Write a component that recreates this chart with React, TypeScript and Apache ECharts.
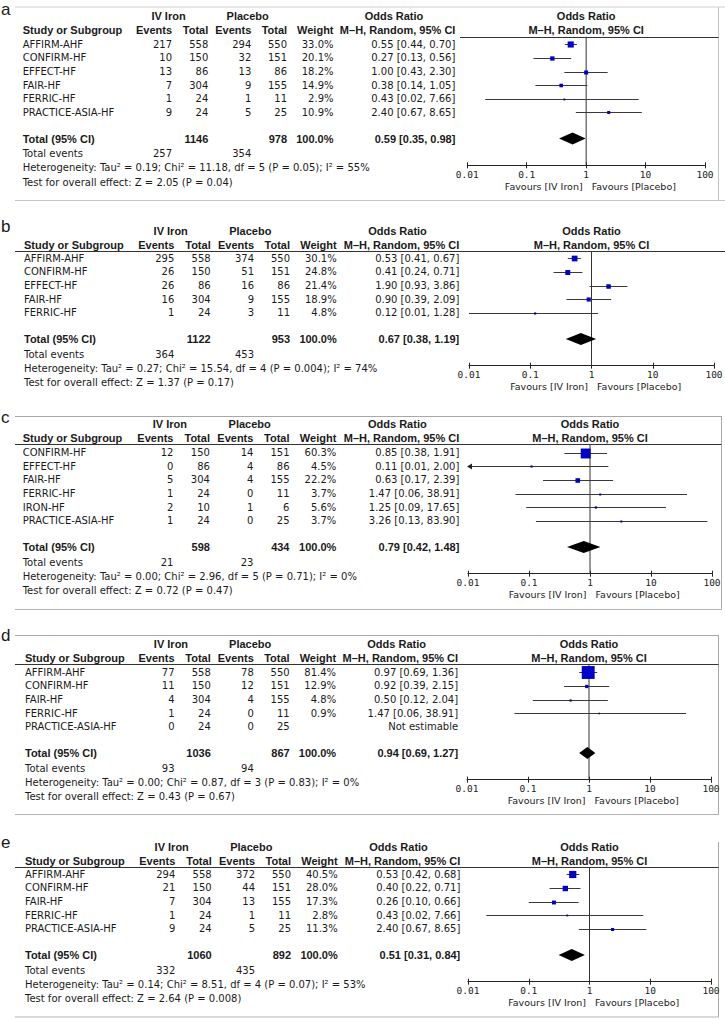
import React, { useEffect, useRef } from "react";
import * as echarts from "echarts";

// ---------------- data ----------------
const tickLabels = ["0.01", "0.1", "1", "10", "100"];

// Panel a
const aStudies = ["AFFIRM-AHF", "CONFIRM-HF", "EFFECT-HF", "FAIR-HF", "FERRIC-HF", "PRACTICE-ASIA-HF"];
const aIronEvents = [217, 10, 13, 7, 1, 9];
const aIronTotal = [558, 150, 86, 304, 24, 24];
const aPlacEvents = [294, 32, 13, 9, 1, 5];
const aPlacTotal = [550, 151, 86, 155, 11, 25];
const aWeight = [33.0, 20.1, 18.2, 14.9, 2.9, 10.9];
const aOR = [0.55, 0.27, 1.0, 0.38, 0.43, 2.4];
const aLow = [0.44, 0.13, 0.43, 0.14, 0.02, 0.67];
const aHigh = [0.7, 0.56, 2.3, 1.05, 7.66, 8.65];
const aPooled = [0.59, 0.35, 0.98];
const aSums = [1146, 978, 257, 354];
const aHet = ["0.19", "11.18", "5", "0.05", "55"];
const aTest = ["2.05", "0.04"];

// Panel b
const bStudies = ["AFFIRM-AHF", "CONFIRM-HF", "EFFECT-HF", "FAIR-HF", "FERRIC-HF"];
const bIronEvents = [295, 26, 26, 16, 1];
const bIronTotal = [558, 150, 86, 304, 24];
const bPlacEvents = [374, 51, 16, 9, 3];
const bPlacTotal = [550, 151, 86, 155, 11];
const bWeight = [30.1, 24.8, 21.4, 18.9, 4.8];
const bOR = [0.53, 0.41, 1.9, 0.9, 0.12];
const bLow = [0.41, 0.24, 0.93, 0.39, 0.01];
const bHigh = [0.67, 0.71, 3.86, 2.09, 1.28];
const bPooled = [0.67, 0.38, 1.19];
const bSums = [1122, 953, 364, 453];
const bHet = ["0.27", "15.54", "4", "0.004", "74"];
const bTest = ["1.37", "0.17"];

// Panel c
const cStudies = ["CONFIRM-HF", "EFFECT-HF", "FAIR-HF", "FERRIC-HF", "IRON-HF", "PRACTICE-ASIA-HF"];
const cIronEvents = [12, 0, 5, 1, 2, 1];
const cIronTotal = [150, 86, 304, 24, 10, 24];
const cPlacEvents = [14, 4, 4, 0, 1, 0];
const cPlacTotal = [151, 86, 155, 11, 6, 25];
const cWeight = [60.3, 4.5, 22.2, 3.7, 5.6, 3.7];
const cOR = [0.85, 0.11, 0.63, 1.47, 1.25, 3.26];
const cLow = [0.38, 0.01, 0.17, 0.06, 0.09, 0.13];
const cHigh = [1.91, 2.0, 2.39, 38.91, 17.65, 83.9];
const cLowBeyondAxis = [false, true, false, false, false, false];
const cPooled = [0.79, 0.42, 1.48];
const cSums = [598, 434, 21, 23];
const cHet = ["0.00", "2.96", "5", "0.71", "0"];
const cTest = ["0.72", "0.47"];

// Panel d
const dStudies = ["AFFIRM-AHF", "CONFIRM-HF", "FAIR-HF", "FERRIC-HF", "PRACTICE-ASIA-HF"];
const dIronEvents = [77, 11, 4, 1, 0];
const dIronTotal = [558, 150, 304, 24, 24];
const dPlacEvents = [78, 12, 4, 0, 0];
const dPlacTotal = [550, 151, 155, 11, 25];
const dWeight = [81.4, 12.9, 4.8, 0.9, null];
const dOR = [0.97, 0.92, 0.5, 1.47, null];
const dLow = [0.69, 0.39, 0.12, 0.06, null];
const dHigh = [1.36, 2.15, 2.04, 38.91, null];
const dPooled = [0.94, 0.69, 1.27];
const dSums = [1036, 867, 93, 94];
const dHet = ["0.00", "0.87", "3", "0.83", "0"];
const dTest = ["0.43", "0.67"];

// Panel e
const eStudies = ["AFFIRM-AHF", "CONFIRM-HF", "FAIR-HF", "FERRIC-HF", "PRACTICE-ASIA-HF"];
const eIronEvents = [294, 21, 7, 1, 9];
const eIronTotal = [558, 150, 304, 24, 24];
const ePlacEvents = [372, 44, 13, 1, 5];
const ePlacTotal = [550, 151, 155, 11, 25];
const eWeight = [40.5, 28.0, 17.3, 2.8, 11.3];
const eOR = [0.53, 0.4, 0.26, 0.43, 2.4];
const eLow = [0.42, 0.22, 0.1, 0.02, 0.67];
const eHigh = [0.68, 0.71, 0.66, 7.66, 8.65];
const ePooled = [0.51, 0.31, 0.84];
const eSums = [1060, 892, 332, 435];
const eHet = ["0.14", "8.51", "4", "0.07", "53"];
const eTest = ["2.64", "0.008"];

type PanelData = {
  label: string;
  studies: string[];
  ironEvents: number[];
  ironTotal: number[];
  placEvents: number[];
  placTotal: number[];
  weight: (number | null)[];
  or: (number | null)[];
  low: (number | null)[];
  high: (number | null)[];
  beyond?: boolean[];
  pooled: number[];
  sums: number[];
  het: string[];
  test: string[];
};

const panels: PanelData[] = [
  { label: "a", studies: aStudies, ironEvents: aIronEvents, ironTotal: aIronTotal, placEvents: aPlacEvents, placTotal: aPlacTotal, weight: aWeight, or: aOR, low: aLow, high: aHigh, pooled: aPooled, sums: aSums, het: aHet, test: aTest },
  { label: "b", studies: bStudies, ironEvents: bIronEvents, ironTotal: bIronTotal, placEvents: bPlacEvents, placTotal: bPlacTotal, weight: bWeight, or: bOR, low: bLow, high: bHigh, pooled: bPooled, sums: bSums, het: bHet, test: bTest },
  { label: "c", studies: cStudies, ironEvents: cIronEvents, ironTotal: cIronTotal, placEvents: cPlacEvents, placTotal: cPlacTotal, weight: cWeight, or: cOR, low: cLow, high: cHigh, beyond: cLowBeyondAxis, pooled: cPooled, sums: cSums, het: cHet, test: cTest },
  { label: "d", studies: dStudies, ironEvents: dIronEvents, ironTotal: dIronTotal, placEvents: dPlacEvents, placTotal: dPlacTotal, weight: dWeight, or: dOR, low: dLow, high: dHigh, pooled: dPooled, sums: dSums, het: dHet, test: dTest },
  { label: "e", studies: eStudies, ironEvents: eIronEvents, ironTotal: eIronTotal, placEvents: ePlacEvents, placTotal: ePlacTotal, weight: eWeight, or: eOR, low: eLow, high: eHigh, pooled: ePooled, sums: eSums, het: eHet, test: eTest },
];

// ---------------- layout (positions / styles) ----------------
const ROW = 13.6;
const TOTAL_GAP = 26.3;
const AXIS_GAP = 26.7;

const layouts = [
  { H: 36.7, first: 7.6, x01: 467.3, x100: 705, tx0: 22.7, ts: 0.994, labelY: 9, headerX1: 460, headerX2: 718.5 },
  { H: 251, first: 7.3, x01: 469, x100: 714, tx0: 24, ts: 1.0, labelY: 226, headerX1: 15, headerX2: 725 },
  { H: 444.3, first: 8.4, x01: 468, x100: 712, tx0: 22.7, ts: 1.003, labelY: 417, headerX1: 15, headerX2: 721.5 },
  { H: 664, first: 8.3, x01: 467, x100: 711, tx0: 25, ts: 0.995, labelY: 635, headerX1: 15, headerX2: 718.5 },
  { H: 867.3, first: 7.0, x01: 468, x100: 711, tx0: 25, ts: 1.0, labelY: 842, headerX1: 15, headerX2: 718.5 },
];

const frameLines: { p: number[]; c: string }[] = [
  { p: [15, 7, 725, 7], c: "#cfcfcf" },
  { p: [718.5, 7, 718.5, 200], c: "#c4c4c4" },
  { p: [15, 200.5, 725, 200.5], c: "#c4c4c4" },
  { p: [15, 416.5, 722, 416.5], c: "#a8a8a8" },
  { p: [721.5, 416.5, 721.5, 609.5], c: "#a8a8a8" },
  { p: [15, 609.5, 722, 609.5], c: "#b4b4b4" },
  { p: [15, 635.5, 719, 635.5], c: "#a8a8a8" },
  { p: [718.5, 635.5, 718.5, 814.5], c: "#a8a8a8" },
  { p: [15, 814.5, 719, 814.5], c: "#b4b4b4" },
  { p: [718.5, 842, 718.5, 1017], c: "#a8a8a8" },
  { p: [15, 1017, 719, 1017], c: "#b4b4b4" },
];

const COL = { study: 24, ev1: 174.3, tot1: 210.7, ev2: 254, tot2: 290, wt: 336.7, or: 459.3, iv: 170.7, pl: 250.3, orh: 397.5 };

const REG = '10px "DejaVu Sans"';
const BOLD = 'bold 11px "Liberation Sans"';
const TXT = "#1a1a1a";
const BLUE = "#0000c8";

function fmtOR(o: number, l: number, h: number) {
  return `${o.toFixed(2)} [${l.toFixed(2)}, ${h.toFixed(2)}]`;
}

function buildOption() {
  const grids: any[] = [];
  const xAxes: any[] = [];
  const yAxes: any[] = [];
  const series: any[] = [];
  const elements: any[] = [];

  const txt = (text: string, x: number, y: number, align: string, font = REG) =>
    elements.push({ type: "text", x, y, silent: true, style: { text, x: 0, y: 0, align, verticalAlign: "middle", font, fill: TXT } });

  frameLines.forEach((f) =>
    elements.push({ type: "line", silent: true, shape: { x1: f.p[0], y1: f.p[1], x2: f.p[2], y2: f.p[3] }, style: { stroke: f.c, lineWidth: 1 } })
  );

  panels.forEach((p, i) => {
    const L = layouts[i];
    const n = p.studies.length;
    const firstY = L.H + L.first;
    const totalIdx = n - 1 + TOTAL_GAP / ROW;
    const totalY = firstY + totalIdx * ROW;
    const axisY = totalY + AXIS_GAP;
    const yMin = -L.first / ROW;
    const yMax = (axisY - firstY) / ROW;
    const xc = (L.x01 + L.x100) / 2;
    const tx = (x: number) => L.tx0 + L.ts * (x - COL.study);

    grids.push({ left: L.x01, top: L.H, width: L.x100 - L.x01, height: axisY - L.H, containLabel: false, outerBoundsMode: "none" });
    const axisBase = {
      type: "log",
      logBase: 10,
      min: 0.01,
      max: 100,
      gridIndex: i,
      position: "bottom",
      splitLine: { show: false },
      minorTick: { show: false },
    };
    xAxes.push({
      ...axisBase,
      axisLine: { show: true, onZero: false, lineStyle: { color: "#222", width: 1 } },
      axisTick: { show: true, length: 3, lineStyle: { color: "#222" } },
      axisLabel: {
        margin: 4,
        color: "#222",
        fontFamily: "DejaVu Sans Mono",
        fontSize: 9.5,
        formatter: (v: number) => tickLabels[Math.round(Math.log10(v)) + 2] ?? "",
      },
    });
    xAxes.push({
      ...axisBase,
      axisLine: { show: false, onZero: false },
      axisTick: { show: true, inside: true, length: 3, lineStyle: { color: "#222" } },
      axisLabel: { show: false },
    });
    yAxes.push({ type: "value", gridIndex: i, inverse: true, min: yMin, max: yMax, show: false });

    const xIdx = i * 2;
    // vertical line of no effect
    series.push({
      type: "line",
      xAxisIndex: xIdx,
      yAxisIndex: i,
      data: [
        [1, yMin],
        [1, yMax],
      ],
      symbol: "none",
      silent: true,
      lineStyle: { color: "#333", width: 1 },
      z: 1,
    });

    // studies
    const rows: any[] = [];
    p.studies.forEach((_, k) => {
      const o = p.or[k];
      if (o == null) return;
      rows.push([o, p.low[k], p.high[k], k, p.weight[k], p.beyond && p.beyond[k] ? 1 : 0]);
    });
    series.push({
      type: "custom",
      xAxisIndex: xIdx,
      yAxisIndex: i,
      data: rows,
      encode: { x: [0, 1, 2], y: 3 },
      silent: true,
      z: 3,
      renderItem: (_params: any, api: any) => {
        const o = api.value(0);
        const lo = api.value(1);
        const hi = api.value(2);
        const r = api.value(3);
        const w = api.value(4);
        const beyond = api.value(5);
        const pLo = api.coord([Math.max(lo, 0.01), r]);
        const pHi = api.coord([Math.min(hi, 100), r]);
        const pC = api.coord([o, r]);
        const s = 1.5 + 0.14 * w;
        const yy = Math.round(pC[1]) + 0.5;
        const children: any[] = [
          { type: "line", shape: { x1: pLo[0], y1: yy, x2: pHi[0], y2: yy }, style: { stroke: "#3a3a3a", lineWidth: 1 } },
          { type: "rect", shape: { x: pC[0] - s / 2, y: yy - s / 2, width: s, height: s }, style: { fill: BLUE } },
        ];
        if (beyond) {
          children.push({
            type: "polygon",
            shape: { points: [[pLo[0] - 1, yy], [pLo[0] + 4, yy - 3], [pLo[0] + 4, yy + 3]] },
            style: { fill: "#222" },
          });
        }
        return { type: "group", children };
      },
    });

    // pooled diamond
    series.push({
      type: "custom",
      xAxisIndex: xIdx,
      yAxisIndex: i,
      data: [[p.pooled[0], p.pooled[1], p.pooled[2], totalIdx]],
      encode: { x: [0, 1, 2], y: 3 },
      silent: true,
      z: 4,
      renderItem: (_params: any, api: any) => {
        const c = api.coord([api.value(0), api.value(3)]);
        const l = api.coord([api.value(1), api.value(3)]);
        const h = api.coord([api.value(2), api.value(3)]);
        return {
          type: "polygon",
          shape: { points: [[l[0], c[1]], [c[0], c[1] - 6], [h[0], c[1]], [c[0], c[1] + 6]] },
          style: { fill: "#000" },
        };
      },
    });

    // ---- texts ----
    txt(p.label, 1, L.labelY, "left", '17px "Liberation Sans"');
    const h1 = L.H - 20.5;
    const h2 = L.H - 6.5;
    txt("IV Iron", tx(COL.iv), h1, "center", BOLD);
    txt("Placebo", tx(COL.pl), h1, "center", BOLD);
    txt("Odds Ratio", tx(COL.orh), h1, "center", BOLD);
    txt("Odds Ratio", xc, h1, "center", BOLD);
    txt("Study or Subgroup", tx(COL.study), h2, "left", BOLD);
    txt("Events", tx(COL.ev1), h2, "right", BOLD);
    txt("Total", tx(COL.tot1), h2, "right", BOLD);
    txt("Events", tx(COL.ev2), h2, "right", BOLD);
    txt("Total", tx(COL.tot2), h2, "right", BOLD);
    txt("Weight", tx(COL.wt), h2, "right", BOLD);
    txt("M–H, Random, 95% CI", tx(COL.or), h2, "right", BOLD);
    txt("M–H, Random, 95% CI", xc, h2, "center", BOLD);
    elements.push({
      type: "line",
      silent: true,
      shape: { x1: L.headerX1, y1: Math.round(L.H) + 0.5, x2: L.headerX2, y2: Math.round(L.H) + 0.5 },
      style: { stroke: "#333", lineWidth: 1 },
    });

    p.studies.forEach((name, k) => {
      const y = firstY + k * ROW;
      txt(name, tx(COL.study), y, "left");
      txt(String(p.ironEvents[k]), tx(COL.ev1), y, "right");
      txt(String(p.ironTotal[k]), tx(COL.tot1), y, "right");
      txt(String(p.placEvents[k]), tx(COL.ev2), y, "right");
      txt(String(p.placTotal[k]), tx(COL.tot2), y, "right");
      const w = p.weight[k];
      const o = p.or[k];
      if (w != null) txt(`${w.toFixed(1)}%`, tx(COL.wt), y, "right");
      if (o != null) txt(fmtOR(o, p.low[k] as number, p.high[k] as number), tx(COL.or), y, "right");
      else txt("Not estimable", tx(COL.or), y, "right");
    });

    txt("Total (95% CI)", tx(COL.study), totalY, "left", BOLD);
    txt(String(p.sums[0]), tx(COL.tot1), totalY, "right", BOLD);
    txt(String(p.sums[1]), tx(COL.tot2), totalY, "right", BOLD);
    txt("100.0%", tx(COL.wt), totalY, "right", BOLD);
    txt(fmtOR(p.pooled[0], p.pooled[1], p.pooled[2]), tx(COL.or), totalY, "right", BOLD);

    txt("Total events", tx(COL.study), totalY + 15, "left");
    txt(String(p.sums[2]), tx(COL.ev1), totalY + 15, "right");
    txt(String(p.sums[3]), tx(COL.ev2), totalY + 15, "right");
    txt(
      `Heterogeneity: Tau² = ${p.het[0]}; Chi² = ${p.het[1]}, df = ${p.het[2]} (P = ${p.het[3]}); I² = ${p.het[4]}%`,
      tx(COL.study),
      totalY + 29,
      "left"
    );
    txt(`Test for overall effect: Z = ${p.test[0]} (P = ${p.test[1]})`, tx(COL.study), totalY + 43.5, "left");

    txt("Favours [IV Iron]", xc - 3.5, axisY + 21, "right", '9.5px "DejaVu Sans"');
    txt("Favours [Placebo]", xc + 5.5, axisY + 21, "left", '9.5px "DejaVu Sans"');
  });

  return {
    animation: false,
    backgroundColor: "#ffffff",
    grid: grids,
    xAxis: xAxes,
    yAxis: yAxes,
    series,
    graphic: { elements },
  };
}

export default function App() {
  const ref = useRef<HTMLDivElement>(null);
  useEffect(() => {
    document.body.style.margin = "0";
    const chart = echarts.init(ref.current as HTMLDivElement, null, { renderer: "svg" });
    chart.setOption(buildOption() as any);
    return () => chart.dispose();
  }, []);
  return (
    <div
      ref={ref}
      style={{ position: "absolute", left: 0, top: 0, width: 725, height: 1019, background: "#fff" }}
    />
  );
}
